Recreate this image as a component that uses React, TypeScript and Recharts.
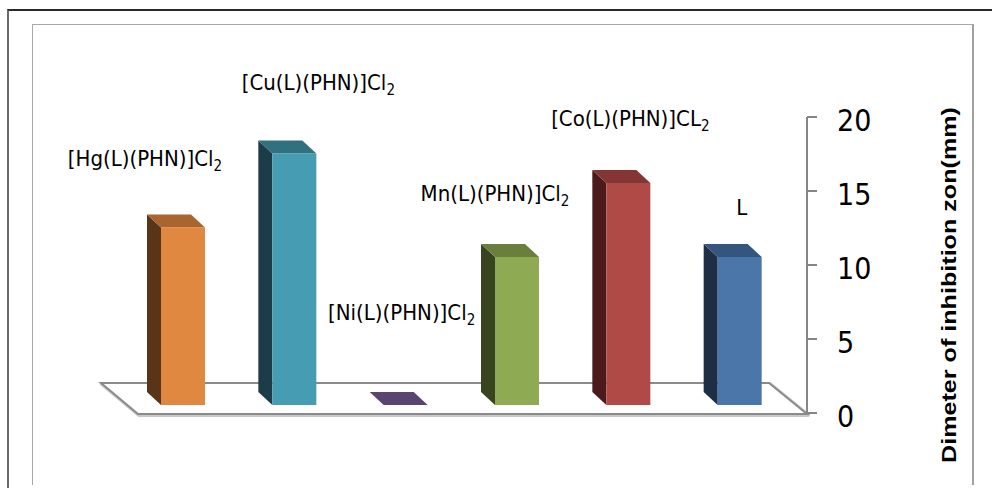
import React from 'react';
import { BarChart, Bar, XAxis, YAxis, LabelList, Customized } from 'recharts';

// compounds tested, "_" marks the subscript part of the formula
const compounds = [
  '[Hg(L)(PHN)]Cl_2',
  '[Cu(L)(PHN)]Cl_2',
  '[Ni(L)(PHN)]Cl_2',
  'Mn(L)(PHN)]Cl_2',
  '[Co(L)(PHN)]CL_2',
  'L',
];
const zoneValues = [12, 17, 0, 10, 15, 10];
const yTicks = [0, 5, 10, 15, 20];
const axisTitle = 'Dimeter of inhibition  zon(mm)';

const data = compounds.map((name, i) => ({ name, zone: zoneValues[i] }));

// front / side / top shades for each column
const shades = [
  ['#E0883F', '#5A3418', '#A8652F'],
  ['#469CB2', '#1C3C47', '#31717F'],
  ['#7E63A0', '#3A2B4B', '#5A4572'],
  ['#8EAA52', '#384420', '#6B7F3C'],
  ['#B04A47', '#4A1B1A', '#843634'],
  ['#4A76AA', '#1E2E45', '#34567E'],
];

// label placement relative to the top centre of each column (dragged by hand in the original)
const labelShift = [
  [-38, -77],
  [24, -79],
  [-4, -101],
  [-22, -72],
  [2, -73],
  [2, -58],
];

const W = 992;
const H = 488;
const LIFT = 8; // columns stand slightly behind the front edge of the floor
const DX = -14;
const DY = -13;
const narrow = "'Liberation Sans Narrow', 'DejaVu Sans Condensed', Arial, sans-serif";

const Column = (props: any) => {
  const { x, y, width, height, payload } = props;
  const i = compounds.indexOf(payload.name);
  const [front, side, top] = shades[i];
  const t = y - LIFT;
  const b = y + height - LIFT;
  return (
    <g>
      {height > 0 && (
        <polygon
          points={`${x},${t} ${x + DX},${t + DY} ${x + DX},${b + DY} ${x},${b}`}
          fill={side}
        />
      )}
      <polygon
        points={`${x},${t} ${x + width},${t} ${x + width + DX},${t + DY} ${x + DX},${t + DY}`}
        fill={top}
      />
      {height > 0 && <rect x={x} y={t} width={width} height={b - t} fill={front} />}
    </g>
  );
};

const Floor = () => (
  <g>
    <polygon
      points="102,384 770,384 808,415 139,415"
      fill="none"
      stroke="#c8c8c8"
      strokeWidth={4}
      strokeLinejoin="round"
    />
    <polygon points="101,383 769,383 807,414 138,414" fill="#fff" stroke="#8a8a8a" strokeWidth={2} />
  </g>
);

const renderLabel = (props: any) => {
  const { x, y, width, value, index } = props;
  const [base, sub] = String(value).split('_');
  const [sx, sy] = labelShift[index];
  return (
    <text
      x={x + width / 2 + sx}
      y={y + sy}
      textAnchor="middle"
      dominantBaseline="central"
      fontFamily={narrow}
      fontSize={22}
      fill="#000"
    >
      {base}
      {sub && (
        <tspan fontSize={15} dy={8}>
          {sub}
        </tspan>
      )}
    </text>
  );
};

const renderTitle = (props: any) => {
  const { viewBox } = props;
  const cx = viewBox.x + 141;
  const cy = viewBox.y + viewBox.height / 2 + 20;
  return (
    <text
      x={cx}
      y={cy}
      transform={`rotate(-90, ${cx}, ${cy})`}
      textAnchor="middle"
      dominantBaseline="central"
      fontFamily="'Liberation Sans', Arial, sans-serif"
      fontWeight="bold"
      fontSize={21}
      textLength={356}
      lengthAdjust="spacingAndGlyphs"
      fill="#000"
    >
      {axisTitle}
    </text>
  );
};

export default function App() {
  return (
    <div style={{ position: 'absolute', left: 0, top: 0, width: W, height: H, background: '#fff', overflow: 'hidden' }}>
      <div
        style={{
          position: 'absolute',
          left: 7,
          top: 9,
          width: W,
          height: H,
          borderLeft: '2px solid #6a6a6a',
          borderTop: '2px solid #2a2a2a',
        }}
      />
      <div
        style={{
          position: 'absolute',
          left: 32,
          top: 24,
          width: 939,
          height: 460,
          borderLeft: '1.5px solid #a8a8a8',
          borderTop: '1.5px solid #a8a8a8',
          borderRight: '2px solid #a0a0a0',
        }}
      />
      <div style={{ position: 'absolute', left: 0, top: 0 }}>
        <BarChart
          width={W}
          height={H}
          data={data}
          margin={{ top: 117, right: 0, bottom: 75, left: 127 }}
          barSize={44}
        >
          <Customized component={<Floor />} />
          <XAxis dataKey="name" hide padding={{ left: 0, right: 12 }} />
          <YAxis
            orientation="right"
            width={185}
            domain={[0, 20]}
            ticks={yTicks}
            interval={0}
            tickSize={10}
            tickMargin={20}
            axisLine={{ stroke: '#868686', strokeWidth: 2 }}
            tickLine={{ stroke: '#868686', strokeWidth: 2 }}
            tick={{ fontSize: 30, fill: '#000', fontFamily: narrow, dy: 3 }}
            label={{ content: renderTitle }}
          />
          <Bar dataKey="zone" shape={<Column />} isAnimationActive={false}>
            <LabelList dataKey="name" content={renderLabel} />
          </Bar>
        </BarChart>
      </div>
    </div>
  );
}
